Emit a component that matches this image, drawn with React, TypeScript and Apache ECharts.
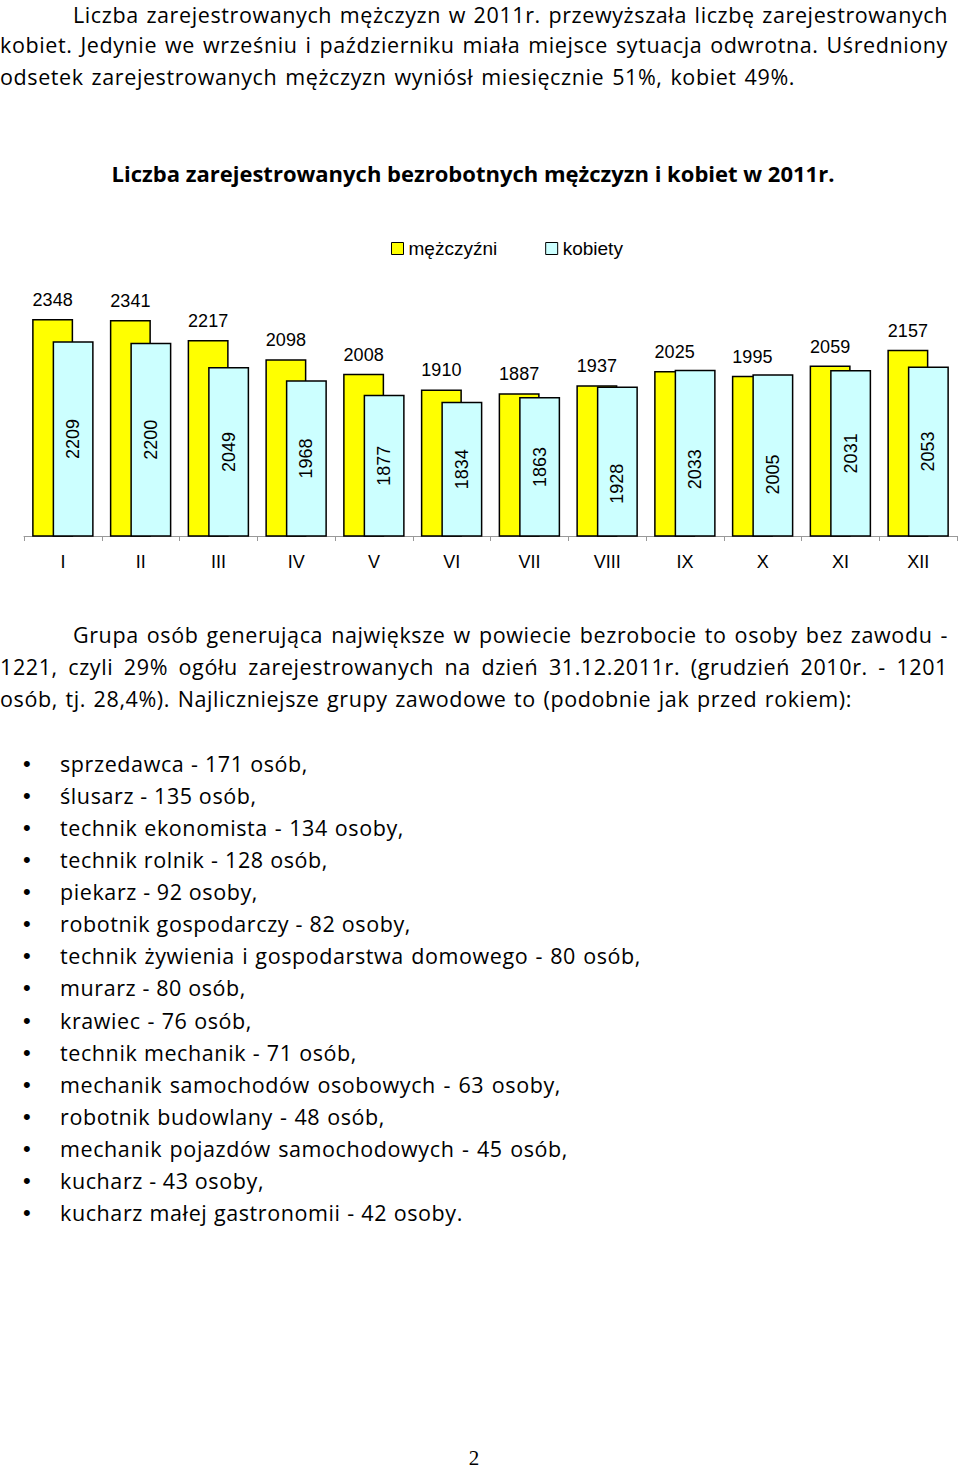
import React, { useEffect, useRef } from "react";
import * as echarts from "echarts";

const months = ["I", "II", "III", "IV", "V", "VI", "VII", "VIII", "IX", "X", "XI", "XII"];
const men = [2348, 2341, 2217, 2098, 2008, 1910, 1887, 1937, 2025, 1995, 2059, 2157];
const women = [2209, 2200, 2049, 1968, 1877, 1834, 1863, 1928, 2033, 2005, 2031, 2053];
const seriesNames = ["mężczyźni", "kobiety"];
const chartTitle = "Liczba zarejestrowanych bezrobotnych mężczyzn i kobiet w 2011r.";

const paragraph1 = [
  "Liczba zarejestrowanych mężczyzn w 2011r. przewyższała liczbę zarejestrowanych",
  "kobiet. Jedynie we wrześniu i październiku miała miejsce sytuacja odwrotna. Uśredniony",
  "odsetek zarejestrowanych mężczyzn wyniósł miesięcznie 51%, kobiet 49%.",
];
const paragraph2 = [
  "Grupa osób generująca największe w powiecie bezrobocie to osoby bez zawodu -",
  "1221, czyli 29% ogółu zarejestrowanych na dzień 31.12.2011r. (grudzień 2010r. - 1201",
  "osób, tj. 28,4%). Najliczniejsze grupy zawodowe to (podobnie jak przed rokiem):",
];
const occupations = [
  "sprzedawca - 171 osób,",
  "ślusarz - 135 osób,",
  "technik ekonomista - 134 osoby,",
  "technik rolnik - 128 osób,",
  "piekarz - 92 osoby,",
  "robotnik gospodarczy - 82 osoby,",
  "technik żywienia i gospodarstwa domowego - 80 osób,",
  "murarz - 80 osób,",
  "krawiec - 76 osób,",
  "technik mechanik - 71 osób,",
  "mechanik samochodów osobowych - 63 osoby,",
  "robotnik budowlany - 48 osób,",
  "mechanik pojazdów samochodowych - 45 osób,",
  "kucharz - 43 osoby,",
  "kucharz małej gastronomii - 42 osoby.",
];
const pageNumber = "2";

// layout (line boxes measured from the page)
const p1Layout = [
  { left: 73, right: 948, cy: 15 },
  { left: 0, right: 948, cy: 45 },
  { left: 0, right: 795, cy: 77 },
];
const p2Layout = [
  { left: 73, right: 948, cy: 635 },
  { left: 0, right: 948, cy: 667 },
  { left: 0, right: 852, cy: 699 },
];
const listRights = [308, 255, 404, 328, 258, 411, 641, 245, 252, 357, 561, 385, 568, 264, 463];

const TEXT_FONT = "'Open Sans', 'Noto Sans', sans-serif";

function Line({ text, left, right, cy }: { text: string; left: number; right: number; cy: number }) {
  return (
    <div
      style={{
        position: "absolute",
        left,
        width: right - left,
        top: cy - 13,
        height: 26,
        lineHeight: "26px",
        fontSize: 21.5,
        letterSpacing: "0.6px",
        fontFamily: TEXT_FONT,
        color: "#000",
        whiteSpace: "nowrap",
        textAlign: "justify",
        textAlignLast: "justify" as any,
      }}
    >
      {text}
    </div>
  );
}

function Chart() {
  const ref = useRef<HTMLDivElement>(null);
  useEffect(() => {
    if (!ref.current) return;
    const chart = echarts.init(ref.current, null, { renderer: "svg" });
    // some women labels sit lower in the bar (rotated frame: -x moves down)
    const labelDrop: Record<number, number> = { 7: 22, 8: 16, 9: 19 };
    const labelFont = "'Liberation Sans', Arial, sans-serif";
    chart.setOption({
      animation: false,
      graphic: [
        {
          type: "text",
          x: 473,
          y: 33,
          style: {
            text: chartTitle,
            textAlign: "center",
            textVerticalAlign: "middle",
            fontFamily: TEXT_FONT,
            fontWeight: "bold",
            fontSize: 22,
            fill: "#000",
          },
        },
      ],
      legend: {
        left: 391,
        top: 99,
        padding: 0,
        itemWidth: 12,
        itemHeight: 12,
        itemGap: 48,
        icon: "rect",
        itemStyle: { borderColor: "#000", borderWidth: 1 },
        textStyle: { fontSize: 19, fontFamily: labelFont, color: "#000" },
        data: seriesNames,
      },
      grid: { left: 24, right: 3, top: 154.5, bottom: 64 },
      xAxis: {
        type: "category",
        data: months,
        axisLine: { lineStyle: { color: "#999", width: 1 } },
        axisTick: { show: true, length: 5, lineStyle: { color: "#999" } },
        axisLabel: { margin: 17, fontSize: 18, fontFamily: labelFont, color: "#000" },
      },
      yAxis: { type: "value", min: 1000, max: 2500, show: false, splitLine: { show: false } },
      series: [
        {
          name: seriesNames[0],
          type: "bar",
          data: men,
          barWidth: 41,
          barGap: "-50%",
          itemStyle: { color: "#FFFF00", borderColor: "#000", borderWidth: 1.5 },
          label: {
            show: true,
            position: "top",
            distance: 10,
            fontSize: 18,
            fontFamily: labelFont,
            color: "#000",
          },
        },
        {
          name: seriesNames[1],
          type: "bar",
          data: women.map((v, i) =>
            labelDrop[i] ? { value: v, label: { offset: [-labelDrop[i], 0] } } : v
          ),
          barWidth: 41,
          barGap: "-50%",
          itemStyle: { color: "#CCFFFF", borderColor: "#000", borderWidth: 1.5 },
          label: {
            show: true,
            position: "inside",
            rotate: 90,
            fontSize: 18,
            fontFamily: labelFont,
            color: "#000",
          },
        },
      ],
    });
    return () => chart.dispose();
  }, []);
  return <div ref={ref} style={{ position: "absolute", left: 0, top: 140, width: 960, height: 460 }} />;
}

export default function App() {
  useEffect(() => {
    document.body.style.margin = "0";
  }, []);
  return (
    <div style={{ position: "relative", width: 960, height: 1469, background: "#fff", overflow: "hidden" }}>
      {paragraph1.map((t, i) => (
        <Line key={"p1" + i} text={t} {...p1Layout[i]} />
      ))}
      <Chart />
      {paragraph2.map((t, i) => (
        <Line key={"p2" + i} text={t} {...p2Layout[i]} />
      ))}
      {occupations.map((t, i) => {
        const cy = 764 + i * 32.07;
        return (
          <React.Fragment key={"o" + i}>
            <div
              style={{
                position: "absolute",
                left: 23,
                top: cy - 13,
                lineHeight: "26px",
                fontSize: 22,
                fontFamily: "'Liberation Sans', Arial, sans-serif",
                color: "#000",
              }}
            >
              •
            </div>
            <Line text={t} left={60} right={listRights[i]} cy={cy} />
          </React.Fragment>
        );
      })}
      <div
        style={{
          position: "absolute",
          left: 0,
          width: 948,
          top: 1448,
          lineHeight: "20px",
          fontSize: 21,
          fontFamily: "'Liberation Serif', 'Times New Roman', serif",
          textAlign: "center",
          color: "#000",
        }}
      >
        {pageNumber}
      </div>
    </div>
  );
}
